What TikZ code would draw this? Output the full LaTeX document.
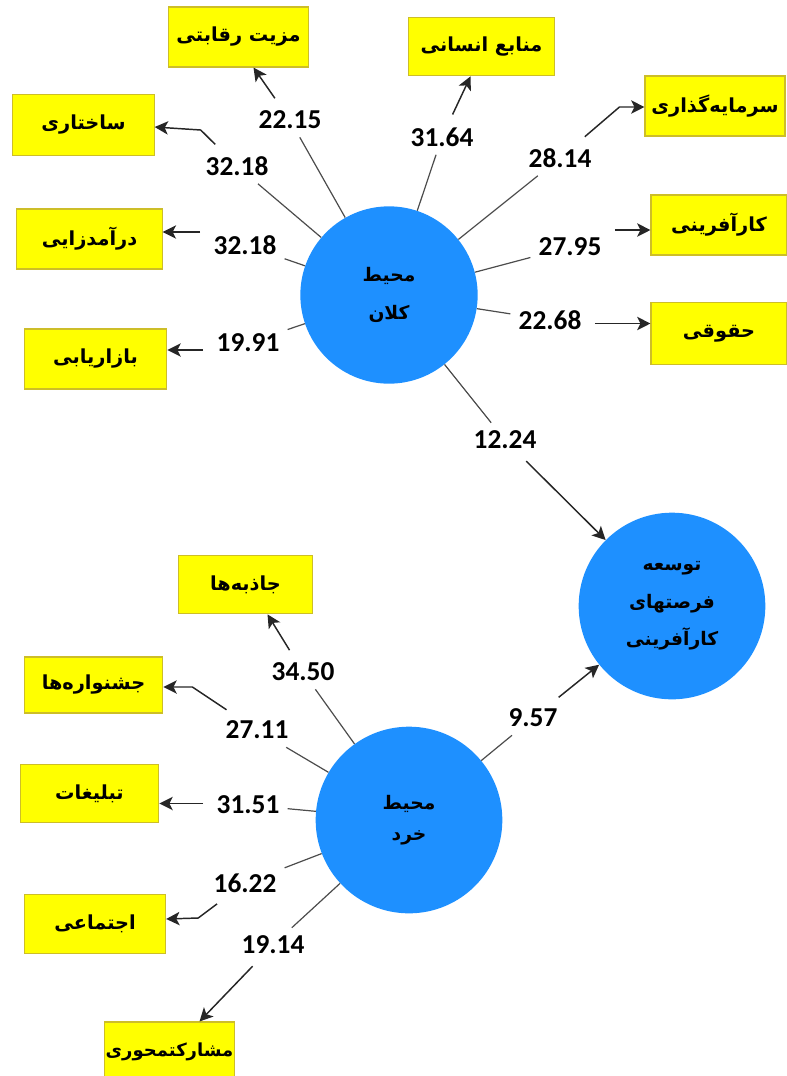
\documentclass[tikz,border=0pt]{standalone}
\usepackage{fontspec}
\setmainfont{Carlito}
\newfontfamily\farsi[Script=Arabic]{DejaVu Sans}
\TeXXeTstate=1
\usetikzlibrary{arrows.meta,calc}
\newcommand{\fatxt}[1]{\beginR #1\endR}

\begin{document}
\begin{tikzpicture}[x=0.75pt,y=-0.75pt,
  box/.style={draw={rgb,255:red,205;green,190;blue,40},fill={rgb,255:red,255;green,255;blue,0},line width=0.8pt,minimum width=105pt,minimum height=45pt,font=\farsi\bfseries\fontsize{14.5}{16}\selectfont},
  hub/.style={circle,fill={rgb,255:red,30;green,144;blue,255},inner sep=0pt,align=center,font=\farsi\bfseries\fontsize{14}{28}\selectfont},
  val/.style={inner sep=6pt,font=\bfseries\fontsize{20.5}{23}\selectfont},
  ln/.style={draw=black!70,line width=0.9pt},
  arr/.style={draw=black!85,line width=1.1pt,shorten <=4pt,-{Stealth[length=10pt,width=10pt,inset=2.5pt]}}]
\useasboundingbox (0,0) rectangle (787,1076);

\node[hub,minimum size=133pt] (kalan) at (389,295) {\fatxt{محیط}\\\fatxt{کلان}};
\node[hub,minimum size=140pt] (toseh) at (672,606) {\fatxt{توسعه}\\\fatxt{فرصتهای}\\\fatxt{کارآفرینی}};
\node[hub,minimum size=140pt] (khord) at (409,820) {\fatxt{محیط}\\[-5pt]\fatxt{خرد}};

\node[box] (mazit) at (238.5,37) {\fatxt{مزیت رقابتی}};
\node[box,minimum width=106pt,minimum height=46pt] (sakhtari) at (83.5,125) {\fatxt{ساختاری}};
\node[box,minimum width=109pt] (daramad) at (89.5,239) {\fatxt{درآمدزایی}};
\node[box,minimum width=107pt] (bazar) at (95.5,359) {\fatxt{بازاریابی}};
\node[box,minimum width=110pt,minimum height=44pt] (manabe) at (481.5,46.5) {\fatxt{منابع انسانی}};
\node[box] (sarmaye) at (715,106) {\fatxt{سرمایه‌گذاری}};
\node[box,minimum width=102pt] (karaf) at (719,225) {\fatxt{کارآفرینی}};
\node[box,minimum width=102pt,minimum height=47pt] (hoghoghi) at (719,333.5) {\fatxt{حقوقی}};
\node[box,minimum width=101pt,minimum height=44pt] (jazebe) at (245.5,584.5) {\fatxt{جاذبه‌ها}};
\node[box,minimum width=104pt,minimum height=42pt] (jashn) at (93.5,685) {\fatxt{جشنواره‌ها}};
\node[box,minimum width=104pt,minimum height=44pt] (tabl) at (89.5,793.5) {\fatxt{تبلیغات}};
\node[box,minimum width=106pt,minimum height=44pt] (ejt) at (95,924) {\fatxt{اجتماعی}};
\node[box,minimum width=93pt,minimum height=45pt,inner sep=1pt,font=\farsi\bfseries\fontsize{13.5}{16}\selectfont] (mosh) at (169.5,1052) {\fatxt{مشارکتمحوری}};

\node[val] (v1) at (290,120) {22.15};
\node[val] (v2) at (237,166) {32.18};
\node[val] (v3) at (245,245) {32.18};
\node[val] (v4) at (248,343) {19.91};
\node[val] (v5) at (442,137) {31.64};
\node[val] (v6) at (560,158) {28.14};
\node[val] (v7) at (570,247) {27.95};
\node[val] (v8) at (550,320) {22.68};
\node[val] (v9) at (505,440) {12.24};
\node[val] (w1) at (303,672) {34.50};
\node[val] (w2) at (257,730) {27.11};
\node[val] (w3) at (248,805) {31.51};
\node[val] (w4) at (245,883) {16.22};
\node[val] (w5) at (273,945) {19.14};
\node[val] (w6) at (533,718) {9.57};

\coordinate (t1) at ($(mazit.south)+(15,0)$);
\coordinate (t2) at ($(sakhtari.east)+(0,2)$);
\coordinate (t3) at ($(daramad.east)+(0,-7)$);
\coordinate (t4) at ($(bazar.east)+(0,-9)$);
\coordinate (t5) at ($(manabe.south)+(-11,0)$);
\coordinate (t6) at ($(sarmaye.west)+(0,1)$);
\coordinate (t7) at ($(karaf.west)+(0,5)$);
\coordinate (t8) at ($(hoghoghi.west)+(0,-10)$);
\coordinate (s1) at ($(jazebe.south)+(22,0)$);
\coordinate (s2) at ($(jashn.east)+(0,2)$);
\coordinate (s3) at ($(tabl.east)+(0,10)$);
\coordinate (s4) at ($(ejt.east)+(0,-5)$);
\coordinate (s5) at ($(mosh.north)+(30,0)$);

\draw[ln] (kalan) -- (v1);
\draw[arr] (v1) -- (t1);
\draw[ln] (kalan) -- (v2);
\draw[arr] (v2) -- ($(t2)+(46,3)$) -- (t2);
\draw[ln] (kalan) -- (v3);
\draw[arr] (v3.west |- t3) -- (t3);
\draw[ln] (kalan) -- (v4);
\draw[arr] (v4.west |- t4) -- (t4);
\draw[ln] (kalan) -- (v5);
\draw[arr] (v5) -- (t5);
\draw[ln] (kalan) -- (v6);
\draw[arr] (v6) -- ($(t6)+(-25,0)$) -- (t6);
\draw[ln] (kalan) -- (v7);
\draw[arr] (v7.east |- t7) -- (t7);
\draw[ln] (kalan) -- (v8);
\draw[arr] (v8.east |- t8) -- (t8);
\draw[ln] (kalan) -- (v9);
\draw[arr] (v9) -- (toseh);

\draw[ln] (khord) -- (w1);
\draw[arr] (w1) -- (s1);
\draw[ln] (khord) -- (w2);
\draw[arr] (w2) -- ($(s2)+(29,0)$) -- (s2);
\draw[ln] (khord) -- (w3);
\draw[arr] (w3.west |- s3) -- (s3);
\draw[ln] (khord) -- (w4);
\draw[arr] (w4) -- ($(s4)+(32,-1)$) -- (s4);
\draw[ln] (khord) -- (w5);
\draw[arr] (w5) -- (s5);
\draw[ln] (khord) -- (w6);
\draw[arr] (w6) -- (toseh);
\end{tikzpicture}
\end{document}
